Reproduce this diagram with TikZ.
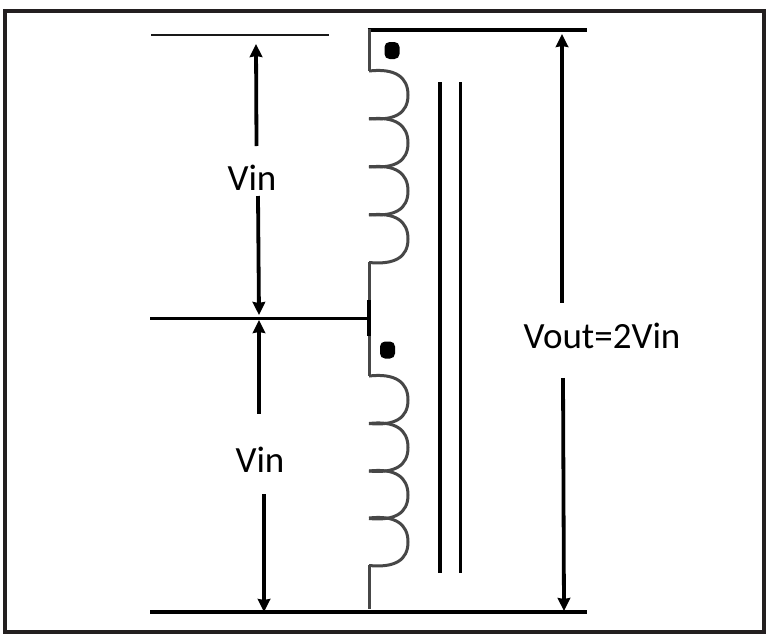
\documentclass[tikz,border=0pt]{standalone}
\usepackage{fontspec}
\setmainfont{Carlito}
\usetikzlibrary{arrows.meta}
\definecolor{framecol}{HTML}{231F20}
\tikzset{wire/.style={line width=3.4pt,line cap=butt},thin wire/.style={line width=2pt,color=black!90},
coil/.style={line width=3pt,color=black!72},core/.style={line width=3.8pt},
tipA/.style={{Stealth[length=13pt,width=12.5pt,inset=1pt]}-},
tipB/.style={-{Stealth[length=13pt,width=12.5pt,inset=1pt]}},
shaft/.style={line width=3.8pt},
lab/.style={font=\fontsize{37}{40}\selectfont,inner sep=0pt},
dotm/.style={fill=black,rounded corners=5pt,minimum width=15pt,minimum height=17pt,inner sep=0pt}}
\begin{document}
\begin{tikzpicture}[x=1pt,y=-1pt]
\useasboundingbox (0,0) rectangle (770,640);
\fill[white] (0,0) rectangle (770,640);
\draw[line width=4pt,color=framecol] (5,11) rectangle (764,632);
\coordinate (t0) at (367.5,30);\coordinate (t1) at (587,30);
\coordinate (b0) at (150,612);\coordinate (b1) at (587,612);
\coordinate (l0) at (151,35);\coordinate (l1) at (329,35);
\coordinate (m0) at (150,318);\coordinate (m1) at (369,318);
\draw[wire] (t0)--(t1);
\draw[wire,line width=4pt] (b0)--(b1);
\draw[thin wire] (l0)--(l1);
\draw[wire,line width=3pt] (m0)--(m1);
\draw[wire,line width=4pt] (368.5,300)--(368.5,336);
\draw[coil] (369,29)--(369,71);
\foreach \y in {71,119,167,215}{\draw[coil] (369,\y) .. controls (395,\y-3) and (408,\y+6) .. (408,\y+24) .. controls (408,\y+42) and (395,\y+50) .. (369,\y+47.5);}
\draw[coil] (369,262)--(369,300);
\draw[coil] (369,336)--(369,376);
\foreach \y in {376,423.5,471,518}{\draw[coil] (369,\y) .. controls (395,\y-3) and (408,\y+6) .. (408,\y+24) .. controls (408,\y+42) and (395,\y+50) .. (369,\y+47.5);}
\draw[coil] (369,565)--(369,609);
\node[dotm] (d1) at (392,50.5) {};
\node[dotm] (d2) at (387.5,350) {};
\coordinate (c1a) at (440,82);\coordinate (c1b) at (440,573);
\coordinate (c2a) at (460.5,82);\coordinate (c2b) at (460.5,573);
\draw[core] (c1a)--(c1b);
\draw[core] (c2a)--(c2b);
\node[lab] (v1) at (252,178) {Vin};
\node[lab] (v2) at (260,460) {Vin};
\node[lab] (v3) at (602,336) {Vout=2Vin};
\coordinate (a1t) at (256,44);\coordinate (a1b) at (259,315);
\coordinate (a2t) at (259,320);\coordinate (a2b) at (264,612);
\coordinate (a3t) at (562,34);\coordinate (a3b) at (564,611);
\draw[shaft,tipA] (a1t)--(256.5,146);
\draw[shaft,tipB] (258,196)--(a1b);
\draw[shaft,tipA] (a2t)--(259,414);
\draw[shaft,tipB] (264,494)--(a2b);
\draw[shaft,tipA] (a3t)--(562,303);
\draw[shaft,tipB] (563,378)--(a3b);
\end{tikzpicture}
\end{document}
